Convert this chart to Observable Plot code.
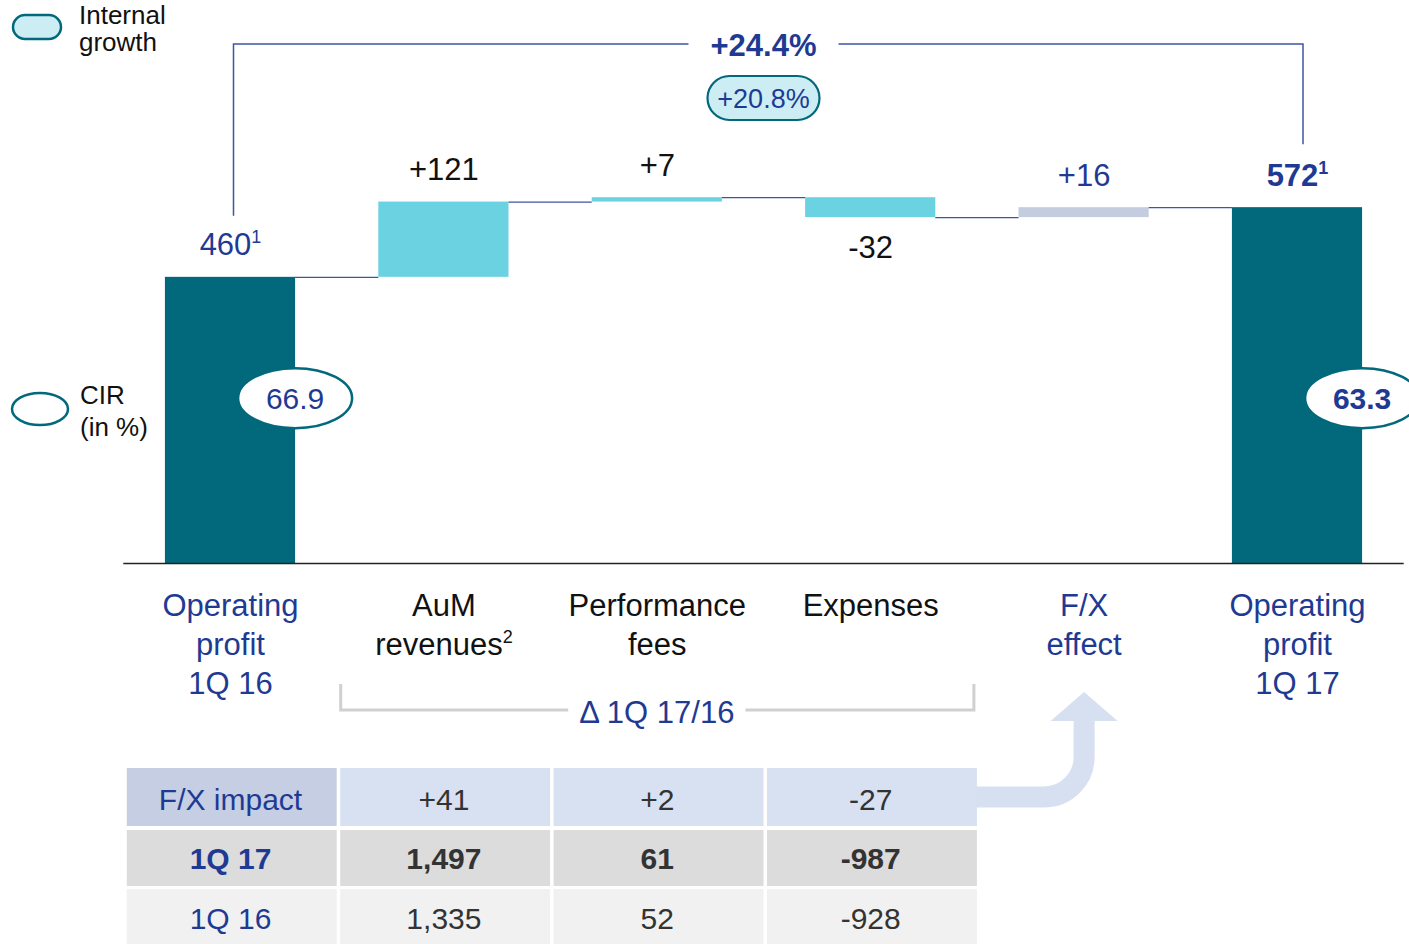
<!DOCTYPE html>
<html><head><meta charset="utf-8">
<script src="https://cdn.jsdelivr.net/npm/d3@7"></script>
<script src="https://cdn.jsdelivr.net/npm/@observablehq/plot@0.6"></script>
<style>
html,body{margin:0;padding:0;background:#fff;overflow:hidden}
#chart svg{display:block}
</style></head><body><div id="chart"></div>
<script>
// ---------- data ----------
const categories = ["Operating\nprofit\n1Q 16", "AuM\nrevenues²", "Performance\nfees", "Expenses", "F/X\neffect", "Operating\nprofit\n1Q 17"];
const kinds = ["total", "delta", "delta", "delta", "fx", "total"];
const values = [460, 121, 7, -32, 16, 572];
const valueLabels = ["460¹", "+121", "+7", "-32", "+16", "572¹"];
const cirValues = ["66.9", "63.3"];
const cirIndex = [0, 5];
const totalGrowth = "+24.4%";
const internalGrowth = "+20.8%";
const tableRowLabels = ["F/X impact", "1Q 17", "1Q 16"];
const fxImpact = ["+41", "+2", "-27"];
const q17 = ["1,497", "61", "-987"];
const q16 = ["1,335", "52", "-928"];
const deltaLabel = "Δ 1Q 17/16";
const legendLabels = ["Internal\ngrowth", "CIR\n(in %)"];

// ---------- layout / style ----------
const W = 1409, H = 944;
const X0 = 123.3, X1 = 1403.7, YB = 563, YMAX = 905;
const hw = 0.305;
const BLUE = "#1F3A93", LINE = "#3D55A5", TEAL = "#02687B", INK = "#111";
const FONT = "'Liberation Sans', Arial, sans-serif";
const barColor = {total: "#02687B", delta: "#6BD2E2", fx: "#C4CCDF"};

let run = 0;
const steps = values.map((v, i) => {
  let start, end;
  if (kinds[i] === "total") { start = 0; end = v; }
  else { start = run; end = run + v; }
  run = end;
  return {i, start, end, kind: kinds[i], label: valueLabels[i], cat: categories[i]};
});
const last = steps.length - 1;
const labelFill = d => d.kind === "delta" ? INK : BLUE;

const tableRows = [fxImpact, q17, q16].map((row, r) =>
  [{c: 0, text: tableRowLabels[r], head: true}, ...row.map((t, c) => ({c: c + 1, text: t, head: false}))]);
const rowDy = [237, 296, 355.5];
const tableMarks = tableRows.map((row, r) =>
  Plot.text(row, {x: "c", y: 0, dy: rowDy[r], text: "text", fill: d => d.head ? BLUE : "#333",
    fontSize: 30, fontWeight: r === 1 ? "bold" : "normal"}));

const plot = Plot.plot({
  width: W, height: H, margin: 0,
  x: {type: "linear", domain: [-0.5, 5.5], range: [X0, X1], axis: null},
  y: {type: "linear", domain: [0, YMAX], range: [YB, 0], axis: null},
  color: {type: "identity"},
  style: {fontFamily: FONT, background: "#fff", overflow: "visible"},
  marks: [
    Plot.rectY(steps, {x1: d => d.i - hw, x2: d => d.i + hw, y1: "start", y2: "end", fill: d => barColor[d.kind]}),
    Plot.ruleY(steps.slice(0, -1), {y: "end", x1: d => d.i + hw, x2: d => d.i + 1 - hw, stroke: LINE, strokeWidth: 1.3}),
    Plot.ruleY([0], {x1: -0.5, x2: 5.5, stroke: "#222", strokeWidth: 1.6}),
    // value labels
    Plot.text(steps.filter(d => d.end >= d.start && d.i !== last), {x: "i", y: d => Math.max(d.start, d.end), dy: -32, text: "label", fill: labelFill, fontSize: 31}),
    Plot.text(steps.filter(d => d.end < d.start), {x: "i", y: d => Math.min(d.start, d.end), dy: 30, text: "label", fill: labelFill, fontSize: 31}),
    Plot.text(steps.filter(d => d.i === last), {x: "i", y: "end", dy: -32, text: "label", fill: labelFill, fontSize: 31, fontWeight: "bold"}),
    // category labels
    Plot.text(steps, {x: "i", y: 0, text: "cat", lineAnchor: "top", dy: 25, lineHeight: 1.25, fill: labelFill, fontSize: 31}),
    ...tableMarks
  ]
});
document.getElementById("chart").appendChild(plot);

// ---------- superscripts: render ¹ ² as small raised digits ----------
const SUP = {"¹": "1", "²": "2"};
d3.select(plot).selectAll("text, tspan").each(function () {
  const el = this;
  if (el.childElementCount > 0) return;
  const s = el.textContent;
  const m = s.match(/^(.*?)([¹²])$/);
  if (!m) return;
  el.textContent = m[1];
  const sup = document.createElementNS("http://www.w3.org/2000/svg", "tspan");
  sup.setAttribute("font-size", "18");
  sup.setAttribute("dy", "-12");
  sup.textContent = SUP[m[2]];
  el.appendChild(sup);
});

// ---------- decorations ----------
const svg = d3.select(plot);
const xs = d3.scaleLinear([-0.5, 5.5], [X0, X1]);
const ys = d3.scaleLinear([0, YMAX], [YB, 0]);

// table backgrounds (behind everything)
const bg = svg.insert("g", ":first-child");
const rowTB = [[205, 263], [267, 323], [326, 381]];
const rowFill = [["#C5CEE2", "#D7E1F2"], ["#DCDCDC", "#DCDCDC"], ["#F1F1F1", "#F1F1F1"]];
rowTB.forEach(([t, b], r) => {
  for (let c = 0; c < 4; c++) {
    bg.append("rect").attr("x", xs(c - 0.5) + 3.5).attr("y", YB + t)
      .attr("width", xs(c + 0.5) - xs(c - 0.5) - 3.5).attr("height", b - t)
      .attr("fill", rowFill[r][c === 0 ? 0 : 1]);
  }
});

// arrow from F/X impact row to F/X effect
const ax = xs(4) + 0.5, aStart = xs(3.5) - 2, aY = YB + 234, aR = 40;
bg.append("path")
  .attr("d", `M${aStart},${aY} H${ax - aR} A${aR},${aR} 0 0 0 ${ax},${aY - aR} V${YB + 156}`)
  .attr("fill", "none").attr("stroke", "#D6E0F1").attr("stroke-width", 21);
bg.append("path")
  .attr("d", `M${ax - 33.5},${YB + 158} L${ax + 33.5},${YB + 158} L${ax},${YB + 129} Z`)
  .attr("fill", "#D6E0F1");

const deco = svg.append("g").attr("text-anchor", "middle");

// delta bracket
const bY = YB + 147, bTop = YB + 121;
const bText = deco.append("text").attr("x", xs(2)).attr("y", YB + 160).attr("text-anchor", "middle")
  .attr("fill", BLUE).attr("font-size", 31).attr("font-family", FONT).text(deltaLabel);
const bw = bText.node().getComputedTextLength();
const bl = xs(0.5) + 4, br = xs(3.5) - 3;
deco.append("path")
  .attr("d", `M${bl},${bTop} V${bY} H${xs(2) - bw / 2 - 11} M${xs(2) + bw / 2 + 11},${bY} H${br} V${bTop}`)
  .attr("fill", "none").attr("stroke", "#D0D0D0").attr("stroke-width", 3);

// top growth bracket
const tY = 44, tx1 = xs(0) + 3.5, tx2 = xs(5) + 6, tc = xs(2.5);
const gText = deco.append("text").attr("x", tc).attr("y", 56).attr("text-anchor", "middle")
  .attr("fill", BLUE).attr("font-size", 31).attr("font-weight", "bold").attr("font-family", FONT).text(totalGrowth);
const gw = gText.node().getComputedTextLength();
deco.append("path")
  .attr("d", `M${tx1},${ys(values[0]) - 61} V${tY} H${tc - gw / 2 - 22} M${tc + gw / 2 + 22},${tY} H${tx2} V${ys(values[last]) - 63}`)
  .attr("fill", "none").attr("stroke", LINE).attr("stroke-width", 1.5);
deco.append("rect").attr("x", tc - 56).attr("y", 76).attr("width", 112).attr("height", 44).attr("rx", 22)
  .attr("fill", "#CDEDF4").attr("stroke", TEAL).attr("stroke-width", 2.2);
deco.append("text").attr("x", tc).attr("y", 108).attr("text-anchor", "middle")
  .attr("fill", BLUE).attr("font-size", 27).attr("font-family", FONT).text(internalGrowth);

// CIR ellipses
cirIndex.forEach((idx, k) => {
  const cx = xs(idx + hw), cy = ys(265);
  deco.append("ellipse").attr("cx", cx).attr("cy", cy).attr("rx", 57).attr("ry", 30)
    .attr("fill", "#fff").attr("stroke", TEAL).attr("stroke-width", 2.5);
  deco.append("text").attr("x", cx).attr("y", cy + 10.5).attr("text-anchor", "middle")
    .attr("fill", BLUE).attr("font-size", 30).attr("font-family", FONT)
    .attr("font-weight", idx === last ? "bold" : "normal").text(cirValues[k]);
});

// legend
deco.append("rect").attr("x", 13).attr("y", 15).attr("width", 48).attr("height", 24).attr("rx", 12)
  .attr("fill", "#CDEDF4").attr("stroke", TEAL).attr("stroke-width", 2.5);
deco.append("ellipse").attr("cx", 40).attr("cy", 409).attr("rx", 28).attr("ry", 16)
  .attr("fill", "#fff").attr("stroke", TEAL).attr("stroke-width", 2.5);
[[79, 24, 27], [80, 404, 32]].forEach(([x, y, lh], k) => {
  const t = deco.append("text").attr("text-anchor", "start").attr("font-size", 26).attr("font-family", FONT).attr("fill", INK);
  legendLabels[k].split("\n").forEach((line, j) => t.append("tspan").attr("x", x).attr("y", y + j * lh).text(line));
});
</script>
</body></html>
